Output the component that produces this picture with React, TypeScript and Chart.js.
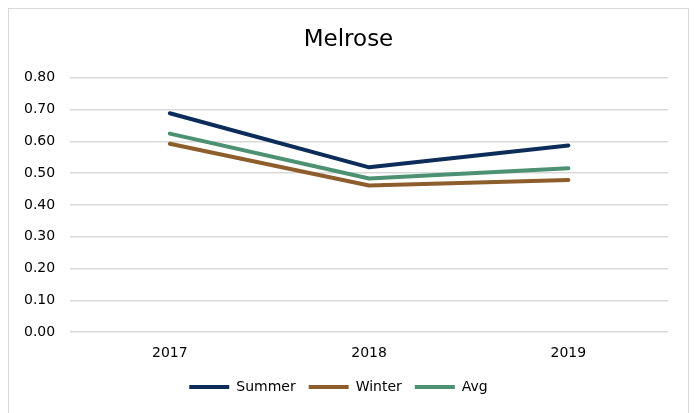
import React, { useEffect, useRef } from "react";
import { Chart, registerables } from "chart.js";

Chart.register(...registerables);

const categories = ["2017", "2018", "2019"];
const summer = [0.688, 0.518, 0.587];
const winter = [0.592, 0.461, 0.478];
const avg = [0.624, 0.483, 0.515];
const yTicks = [0, 0.1, 0.2, 0.3, 0.4, 0.5, 0.6, 0.7, 0.8];

const FONT = "'DejaVu Sans', Verdana, sans-serif";

const centerTitle = {
  id: "centerTitle",
  afterLayout(chart: any) {
    const t = chart.titleBlock;
    if (t) {
      t.left = 0;
      t.right = chart.width;
      t.width = chart.width;
    }
  },
};

export default function App() {
  const ref = useRef<HTMLCanvasElement | null>(null);

  useEffect(() => {
    document.body.style.overflow = "hidden";
    if (!ref.current) return;
    const chart = new Chart(ref.current, {
      type: "line",
      data: {
        labels: categories,
        datasets: [
          { label: "Summer", data: summer, borderColor: "#0c2d5a", backgroundColor: "#0c2d5a" },
          { label: "Winter", data: winter, borderColor: "#8e5d2c", backgroundColor: "#8e5d2c" },
          { label: "Avg", data: avg, borderColor: "#4c9171", backgroundColor: "#4c9171" },
        ].map((d) => ({
          ...d,
          borderWidth: 4,
          pointRadius: 0,
          pointHoverRadius: 0,
          tension: 0,
          borderCapStyle: "round" as const,
          borderJoinStyle: "round" as const,
        })),
      },
      plugins: [centerTitle],
      options: {
        animation: false,
        responsive: false,
        layout: { padding: { left: 0, right: 20, top: 10, bottom: 13 } },
        plugins: {
          title: {
            display: true,
            text: "Melrose",
            color: "#000",
            font: { family: FONT, size: 23, weight: "normal" },
            padding: { top: 7, bottom: 24 },
          },
          legend: {
            position: "bottom",
            labels: {
              color: "#000",
              font: { family: FONT, size: 14 },
              usePointStyle: true,
              pointStyle: "line",
              pointStyleWidth: 40,
              boxHeight: 4,
              padding: 13,
            },
          },
          tooltip: { enabled: false },
        },
        scales: {
          x: {
            offset: true,
            grid: { display: false },
            border: { display: false },
            ticks: { color: "#000", font: { family: FONT, size: 14 }, padding: 5 },
          },
          y: {
            min: 0,
            max: 0.8,
            afterBuildTicks: (axis: any) => {
              axis.ticks = yTicks.map((v) => ({ value: v }));
            },
            grid: { color: "#d9d9d9", lineWidth: 1.5, drawTicks: false },
            border: { display: false },
            ticks: {
              color: "#000",
              font: { family: FONT, size: 14 },
              padding: 15,
              callback: (v: any) => Number(v).toFixed(2),
            },
          },
        },
      },
    });
    return () => chart.destroy();
  }, []);

  return (
    <div
      style={{
        width: 681,
        height: 410,
        border: "1px solid #d9d9d9",
        boxSizing: "border-box",
        background: "#fff",
      }}
    >
      <canvas ref={ref} width={679} height={408} style={{ display: "block" }} />
    </div>
  );
}
